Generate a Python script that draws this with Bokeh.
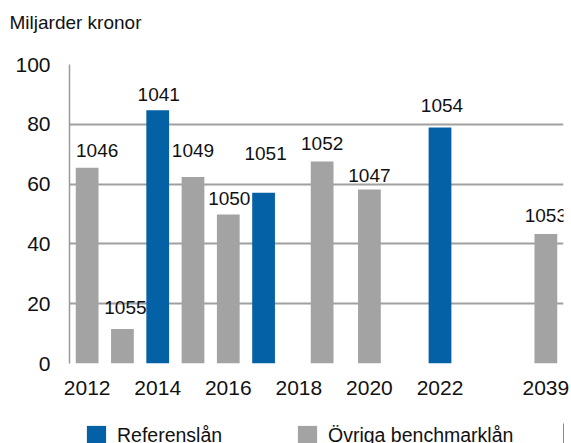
from bokeh.plotting import figure
from bokeh.layouts import column
from bokeh.models import ColumnDataSource, Legend, LegendItem, FixedTicker, Range1d
from bokeh.core.properties import value
from bokeh.embed import file_html
from bokeh.resources import INLINE

# ---- data ----
loans = ["1046", "1055", "1041", "1049", "1050", "1051", "1052", "1047", "1054", "1053"]
maturity = [2012, 2013, 2014, 2015, 2016, 2017, 2018.66, 2020, 2022, 2039]
amount = [65.5, 11.5, 84.7, 62.4, 49.8, 57.1, 67.6, 58.2, 78.9, 43.3]
kind = ["Övriga benchmarklån", "Övriga benchmarklån", "Referenslån", "Övriga benchmarklån",
        "Övriga benchmarklån", "Referenslån", "Övriga benchmarklån", "Övriga benchmarklån",
        "Referenslån", "Övriga benchmarklån"]
series = ["Referenslån", "Övriga benchmarklån"]
tick_years = [2012, 2014, 2016, 2018, 2020, 2022, 2039]
y_ticks = [0, 20, 40, 60, 80, 100]

# ---- layout / style ----
BREAK_AFTER = 2022      # axis is broken after this year
BREAK_POS = 2025        # axis position used for years beyond the break
def axis_pos(y):
    return y if y <= BREAK_AFTER else BREAK_POS

label_dx = [10, 3, 1, 0, 1, 2, 0, 0, 2, 0]          # px
label_gap = [10, 15, 9, 19, 9, 32, 11, 7, 15, 12]   # px above bar top
LABEL_LIFT = 7

BLUE = "#0561A6"
GRAY = "#A3A3A3"
colors = {"Referenslån": BLUE, "Övriga benchmarklån": GRAY}
FONT = "Liberation Sans"
INK = "#111111"

def strip(height):
    f = figure(width=571, height=height, output_backend="svg", toolbar_location=None,
               x_range=Range1d(0, 1), y_range=Range1d(0, 1),
               min_border=0, min_border_left=0, min_border_right=0,
               min_border_top=0, min_border_bottom=0)
    f.axis.visible = False
    f.grid.visible = False
    f.outline_line_color = None
    return f

# ---- title strip ----
t = strip(46)
t.title.text = "Miljarder kronor"
t.title.align = "left"
t.title.vertical_align = "top"
t.title.offset = -60
t.title.standoff = 22
t.title.text_font = FONT
t.title.text_font_size = "19px"
t.title.text_font_style = "normal"
t.title.text_color = INK

# ---- main chart ----
src = ColumnDataSource(dict(
    x=[axis_pos(m) for m in maturity],
    top=amount,
    loan=loans,
    color=[colors[k] for k in kind],
    dx=label_dx,
    dy=[-(g + LABEL_LIFT) for g in label_gap],
))

p = figure(width=571, height=377, output_backend="svg", toolbar_location=None,
           x_range=Range1d(2011.5, BREAK_POS + 0.5), y_range=Range1d(0, 100),
           min_border_left=69, min_border_right=8, min_border_top=18, min_border_bottom=60)
p.outline_line_color = None
p.background_fill_color = "white"

p.vbar(x="x", top="top", bottom=0, width=0.645, source=src,
       fill_color="color", line_color=None)

p.text(x="x", y="top", text="loan", source=src, x_offset="dx", y_offset="dy",
       text_align="center", text_baseline="alphabetic",
       text_font=value(FONT), text_font_size="19px", text_color=INK)

p.xaxis.ticker = FixedTicker(ticks=[axis_pos(t_) for t_ in tick_years])
p.xaxis.major_label_overrides = {axis_pos(t_): str(t_) for t_ in tick_years}
p.yaxis.ticker = FixedTicker(ticks=y_ticks)
for ax in (p.xaxis[0], p.yaxis[0]):
    ax.major_tick_line_color = None
    ax.minor_tick_line_color = None
    ax.major_tick_out = 0
    ax.major_tick_in = 0
    ax.major_label_text_font = FONT
    ax.major_label_text_font_size = "21px"
    ax.major_label_text_color = INK
p.xaxis.axis_line_color = None
p.xaxis.major_label_standoff = 17
p.yaxis.axis_line_color = "#9a9a9a"
p.yaxis.axis_line_width = 1.5
p.yaxis.major_label_standoff = 19

p.xgrid.grid_line_color = None
p.ygrid.grid_line_color = "#a0a0a0"
p.ygrid.grid_line_width = 2

# ---- legend strip ----
# the same bars drawn in the strip (outside its visible range) act as legend swatches
q = strip(20)
qr = q.vbar(x="x", top="top", bottom=0, width=0.645, source=src,
            fill_color="color", line_color=None)
for name, loc in zip(series, [(15, -4), (226, -4)]):
    idx = kind.index(name)
    q.add_layout(Legend(items=[LegendItem(label=name, renderers=[qr], index=idx)], location=loc,
                        padding=0, margin=0, glyph_width=24, glyph_height=24, label_standoff=9,
                        label_text_font=FONT, label_text_font_size="19.5px",
                        label_text_color=INK, border_line_color=None,
                        background_fill_alpha=0))

open("out.html", "w").write(file_html(column(t, p, q, spacing=0), INLINE))
